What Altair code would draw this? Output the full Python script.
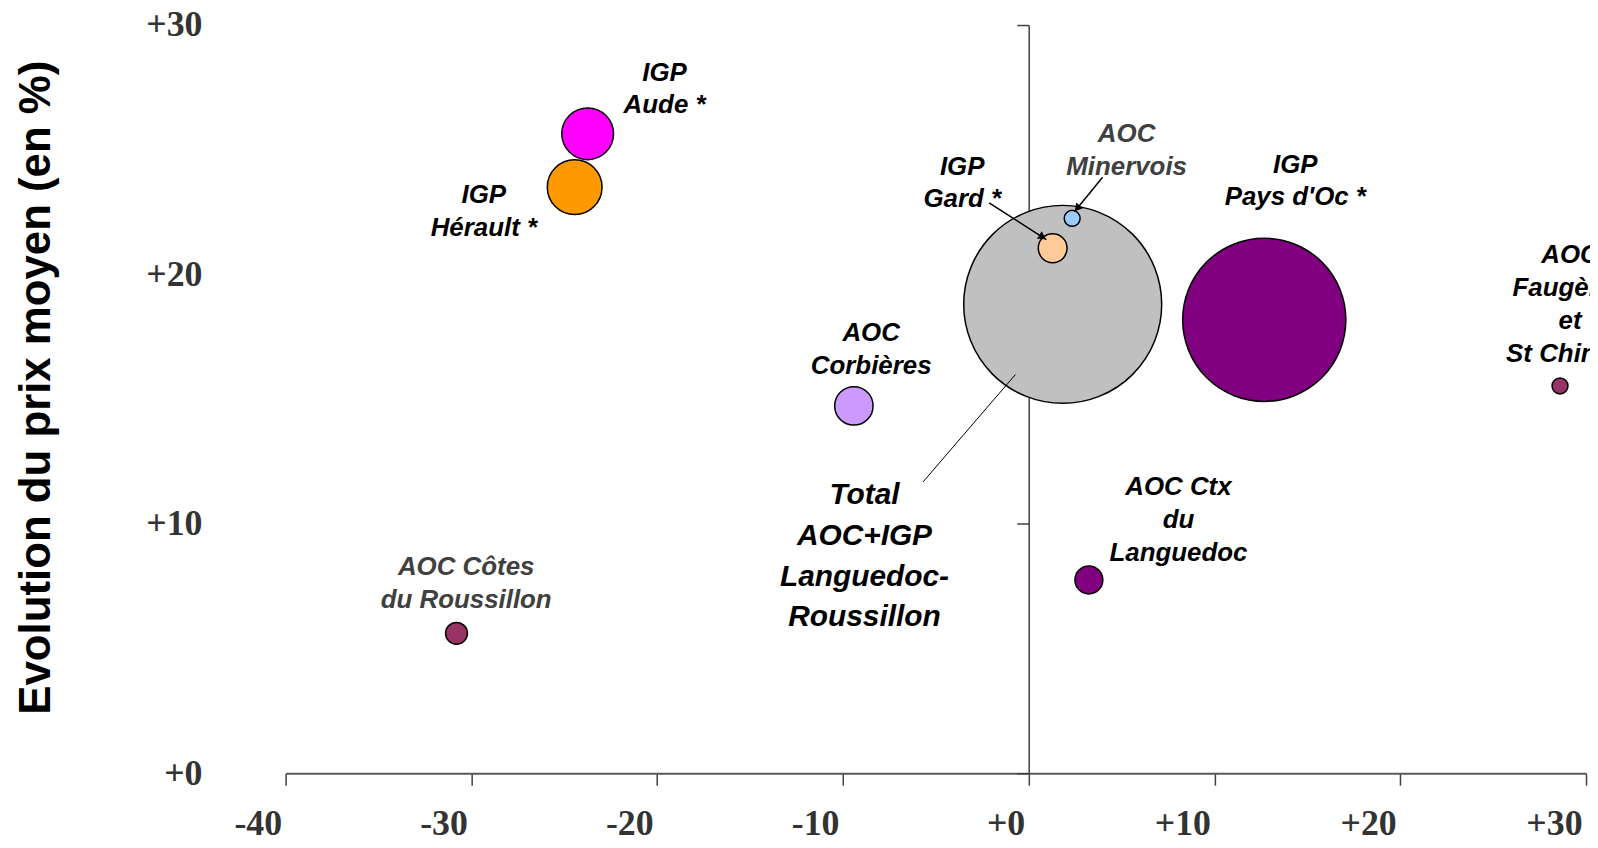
import math
import altair as alt
import pandas as pd

# ---------------- data ----------------
names = ["Total AOC+IGP Languedoc-Roussillon", "IGP Pays d'Oc", "IGP Aude", "IGP Hérault",
         "AOC Côtes du Roussillon", "AOC Corbières", "IGP Gard", "AOC Minervois",
         "AOC Ctx du Languedoc", "AOC Faugères et St Chinian"]
vol_change = [1.83, 12.68, -23.74, -24.44, -30.8, -9.41, 1.29, 2.34, 3.24, 28.6]
price_change = [18.8, 18.18, 25.64, 23.5, 5.61, 14.73, 21.05, 22.25, 7.75, 15.53]
volume = [9900, 6724, 676, 756, 121, 372, 210, 64, 196, 64]
bubble_colors = ["#C0C0C0", "#800080", "#FF00FF", "#FF9900", "#993366",
                 "#CC99FF", "#FFCC99", "#99CCFF", "#800080", "#993366"]

label_text = ["IGP\nAude *", "IGP\nHérault *", "AOC Côtes\ndu Roussillon", "AOC\nCorbières",
              "IGP\nGard *", "AOC\nMinervois", "IGP\nPays d'Oc *", "AOC Ctx\ndu\nLanguedoc",
              "AOC\nFaugères\net\nSt Chinian"]
label_x = [-19.6, -29.33, -30.28, -8.48, -3.58, 5.27, 14.35, 8.06, 29.14]
label_y = [28.61, 23.69, 8.77, 18.16, 24.84, 26.15, 24.92, 11.98, 21.29]
label_colors = ["#000000", "#000000", "#404040", "#000000", "#000000",
                "#404040", "#000000", "#000000", "#000000"]

total_text = ["Total\nAOC+IGP\nLanguedoc-\nRoussillon"]
total_x = [-8.84]
total_y = [11.75]

line_x1 = [-5.69, -2.13, 3.98]
line_y1 = [11.68, 22.87, 23.9]
line_x2 = [-0.71, 0.95, 2.46]
line_y2 = [15.99, 21.4, 22.51]
line_width = [1.0, 1.5, 1.5]
line_arrow = [False, True, True]

x_ticks = [-40, -30, -20, -10, 0, 10, 20, 30]
y_ticks = [0, 10, 20, 30]

# ---------------- layout ----------------
W, H = 1307, 752
X_DOM, Y_DOM = [-40, 30], [0, 30]
px_x = W / (X_DOM[1] - X_DOM[0])
px_y = H / (Y_DOM[1] - Y_DOM[0])

bubble_df = pd.DataFrame({"name": names, "x": vol_change, "y": price_change,
                          "volume": volume, "color": bubble_colors})
label_df = pd.DataFrame({"t": label_text, "x": label_x, "y": label_y, "c": label_colors})
total_df = pd.DataFrame({"t": total_text, "x": total_x, "y": total_y})
line_df = pd.DataFrame({"x": line_x1, "y": line_y1, "x2": line_x2, "y2": line_y2, "w": line_width})

# arrowheads at the end of the arrow lines
ah = []
for x1, y1, x2, y2, a in zip(line_x1, line_y1, line_x2, line_y2, line_arrow):
    if not a:
        continue
    dxp = (x2 - x1) * px_x
    dyp = -(y2 - y1) * px_y  # screen, downward positive
    L = math.hypot(dxp, dyp)
    ux, uy = dxp / L, dyp / L
    back = 4.5
    ah.append({"x": x2 - back * ux / px_x, "y": y2 + back * uy / px_y,
               "ang": (math.degrees(math.atan2(dxp, -dyp)) + 360) % 360})
ah_df = pd.DataFrame(ah)

xscale = alt.Scale(domain=X_DOM, nice=False, zero=False)
yscale = alt.Scale(domain=Y_DOM, nice=False, zero=False)
lab_expr = "(datum.value >= 0 ? '+' : '-') + format(abs(datum.value), 'd')"

xaxis = alt.Axis(values=x_ticks, labelExpr=lab_expr, title=None, grid=False,
                 labelFont="Liberation Serif", labelFontWeight="bold", labelFontSize=36,
                 labelColor="#333333", labelAlign="right", labelOffset=-4, labelPadding=22,
                 labelFlush=False, labelOverlap=False, labelBound=False,
                 tickSize=12, tickColor="#404040", tickWidth=1.5,
                 domainColor="#595959", domainWidth=2)

ylabel_axis = alt.Axis(orient="left", values=y_ticks, labelExpr=lab_expr, grid=False,
                       domain=False, ticks=False, tickSize=0, labelPadding=0, offset=84,
                       labelFont="Liberation Serif", labelFontWeight="bold", labelFontSize=36,
                       labelColor="#333333", labelFlush=False, labelOverlap=False,
                       labelBaseline="middle",
                       title="Evolution du prix moyen (en %)", titleFont="Liberation Sans",
                       titleFontWeight="bold", titleFontSize=44, titleColor="#000000",
                       titlePadding=88, titleY=364)

zero_axis = alt.Axis(orient="left", values=y_ticks, labels=False, grid=False, title=None,
                     offset=-(0 - X_DOM[0]) * px_x, ticks=True, tickSize=12,
                     tickColor="#404040", tickWidth=1.5,
                     domain=True, domainColor="#404040", domainWidth=1.5)

yaxis_layer = alt.Chart(pd.DataFrame({"y": y_ticks})).mark_point(opacity=0).encode(
    y=alt.Y("y:Q", scale=yscale, axis=zero_axis)
)

bubbles = alt.Chart(bubble_df).mark_circle(opacity=1, stroke="black", strokeWidth=1.5).encode(
    x=alt.X("x:Q", scale=xscale, axis=xaxis),
    y=alt.Y("y:Q", scale=yscale, axis=ylabel_axis),
    # Vega symbol size = (diameter)^2 -> radius = sqrt(volume)
    size=alt.Size("volume:Q", scale=alt.Scale(type="linear", domain=[0, 9900],
                                              range=[0, 4 * 9900]), legend=None),
    color=alt.Color("color:N", scale=None),
    order=alt.Order("volume:Q", sort="descending"),
)

lines = alt.Chart(line_df).mark_rule(color="black").encode(
    x=alt.X("x:Q", scale=xscale, axis=xaxis),
    y=alt.Y("y:Q", scale=yscale, axis=None),
    x2="x2:Q", y2="y2:Q",
    strokeWidth=alt.StrokeWidth("w:Q", scale=None),
)

arrows = alt.Chart(ah_df).mark_point(shape="triangle-up", filled=True, color="black",
                                     size=80, opacity=1).encode(
    x=alt.X("x:Q", scale=xscale, axis=xaxis),
    y=alt.Y("y:Q", scale=yscale, axis=None),
    angle=alt.Angle("ang:Q", scale=None),
)

labels = alt.Chart(label_df).mark_text(align="center", baseline="top", font="Liberation Sans",
                                       fontStyle="italic", fontWeight="bold", fontSize=26,
                                       lineHeight=33, lineBreak="\n").encode(
    x=alt.X("x:Q", scale=xscale, axis=xaxis),
    y=alt.Y("y:Q", scale=yscale, axis=None),
    text="t:N",
    color=alt.Color("c:N", scale=None),
)

total_label = alt.Chart(total_df).mark_text(align="center", baseline="top", font="Liberation Sans",
                                            fontStyle="italic", fontWeight="bold", fontSize=30,
                                            lineHeight=41, lineBreak="\n", color="black").encode(
    x=alt.X("x:Q", scale=xscale, axis=xaxis),
    y=alt.Y("y:Q", scale=yscale, axis=None),
    text="t:N",
)

chart = alt.layer(yaxis_layer, bubbles, lines, arrows, labels, total_label).resolve_axis(
    y="independent"
).properties(
    width=W, height=H,
    autosize=alt.AutoSizeParams(type="none"),
    padding={"left": 279, "top": 15, "right": 4, "bottom": 73},
    background="white",
).configure_view(stroke=None)

chart.save("out.html", embed_options={"renderer": "svg", "actions": False})
